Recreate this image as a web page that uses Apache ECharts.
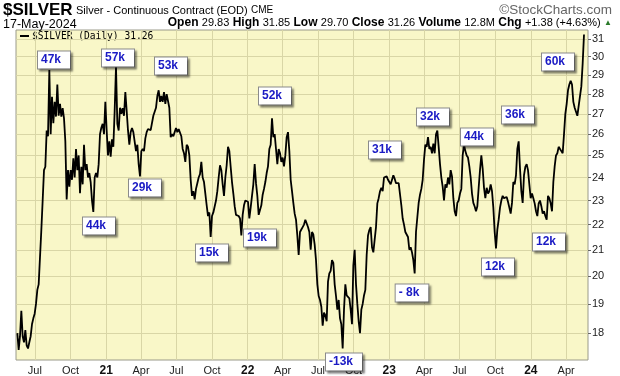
<!DOCTYPE html>
<html>
<head>
<meta charset="utf-8">
<script src="https://cdn.jsdelivr.net/npm/echarts@6/dist/echarts.min.js"></script>
<style>
  html, body { margin: 0; padding: 0; background: #fff; }
  #main { width: 620px; height: 376px; }
</style>
</head>
<body>
<div id="main"></div>
<script>
const startDate = '2020-05-17';
const endDate = '2024-05-17';
const closes = [
  18.0, 17.45, 17.9, 18.76, 17.9, 17.7, 18.1, 17.6, 17.5, 17.7,
  17.9, 18.3, 18.5, 18.66, 19.0, 19.5, 19.7, 19.74, 21.78, 23.0,
  24.33, 24.48, 26.18, 25.9, 29.27, 26.0, 27.86, 26.53, 27.6, 26.86,
  28.5, 26.9, 27.5, 26.86, 27.28, 26.77, 25.66, 23.05, 24.33, 23.6,
  24.33, 23.9, 24.87, 24.0, 25.3, 24.33, 25.0, 23.31, 24.48, 23.7,
  25.5, 24.33, 24.6, 24.0, 24.2, 23.8, 23.0, 22.52, 24.0, 24.2,
  24.0, 24.6, 26.0, 26.31, 26.5, 26.0, 27.6, 26.18, 25.0, 25.66,
  24.94, 25.76, 25.4, 27.15, 29.45, 26.5, 26.18, 27.3, 27.0, 27.28,
  26.9, 28.1, 27.15, 26.18, 25.5,
  26.1, 26.3, 26.1, 26.18, 25.2, 25.5, 24.6, 24.05, 25.2, 25.3,
  25.2, 25.8, 26.1, 26.25, 26.3, 26.2, 26.2, 26.9, 27.1, 27.3,
  27.9, 28.2, 27.6, 27.9, 27.6, 28.1, 27.5, 28.0, 28.1, 27.3,
  25.86, 26.0, 25.9, 26.1, 26.3, 26.1, 26.25, 26.18, 25.9, 25.3,
  25.1, 24.7, 25.5, 25.4, 25.0, 23.9, 23.2, 23.4, 23.05, 23.5,
  23.75, 24.0, 24.15, 24.7, 24.0, 23.8, 23.3, 22.8, 22.35, 22.5,
  21.5, 22.35, 22.5, 22.5, 23.0, 23.4, 24.0, 24.55, 24.33, 23.7,
  23.2, 24.0, 24.55, 25.4, 25.2, 24.48, 23.8, 23.3, 22.76, 22.4,
  22.35, 22.35, 22.25, 21.56, 22.4, 22.8, 23.0,
  23.0, 22.95, 22.25, 22.7, 23.2, 23.7, 24.6, 23.75, 23.2, 22.4,
  22.4, 22.8, 23.25, 23.5, 23.8, 24.2, 24.5, 25.3, 25.5, 26.77,
  25.86, 26.0, 25.3, 24.6, 25.3, 25.1, 24.7, 24.9, 24.5, 25.0,
  25.86, 26.1, 25.2, 23.9, 23.4, 22.9, 22.45, 22.2, 21.55, 20.8,
  21.7, 21.8, 21.9, 22.0, 22.2, 22.15, 21.9, 21.7, 21.0, 21.7,
  21.6, 21.2, 20.6, 19.7, 19.28, 19.14, 18.9, 18.25, 18.7, 18.6,
  18.4, 19.8, 20.1, 20.2, 20.6, 20.5, 19.7, 19.28, 18.8, 19.14,
  18.5, 18.3, 17.5, 18.8, 19.7, 19.3, 19.3, 19.2, 18.8, 18.3,
  20.4, 21.0, 19.7, 19.0, 18.4, 18.0, 18.8,
  19.0, 19.3, 19.5, 20.8, 21.56, 21.78, 21.9, 21.1, 20.9, 21.4,
  21.9, 22.88, 23.1, 23.4, 23.55, 23.4, 24.0, 24.05, 24.05, 23.9,
  23.85, 23.7, 23.7, 24.1, 23.95, 23.75, 23.75, 23.75, 23.7, 22.8,
  22.25, 22.0, 21.7, 21.75, 21.5, 21.0, 21.1, 20.9, 20.6, 20.1,
  21.7, 22.3, 22.9, 23.25, 23.5, 23.9, 24.8, 25.5, 25.4, 25.86,
  25.3, 25.4, 25.1, 25.55, 25.1, 26.0, 26.18, 25.4, 24.6, 24.0,
  23.6, 23.0, 23.7, 23.55, 24.0, 23.7, 24.33, 24.05, 23.1, 22.55,
  22.35, 22.9, 23.0, 23.3, 23.5, 25.0, 25.5, 25.2, 25.0, 24.9,
  24.5, 24.0, 23.3, 22.9, 22.75,
  22.55, 22.76, 23.55, 24.33, 25.0, 24.4, 23.55, 23.1, 23.55, 23.3,
  23.4, 23.7, 23.4, 22.7, 21.7, 21.05, 21.8, 22.2, 22.7, 23.0,
  23.2, 23.1, 23.1, 23.15, 22.95, 22.7, 22.45, 22.9, 23.8, 23.7,
  24.1, 25.3, 25.66, 24.4, 23.4, 22.9, 24.1, 24.48, 24.6, 24.33,
  23.7, 23.1, 23.3, 23.1, 22.88, 22.55, 22.35, 22.88, 23.0, 22.76,
  22.45, 22.55, 22.35, 22.2, 23.2, 23.1, 22.88, 22.55, 23.8, 24.5,
  25.0, 25.1, 25.4, 25.3, 25.2, 25.1, 26.0, 27.0, 27.5, 28.2,
  28.5, 28.7, 28.5, 27.6, 27.3, 27.1, 26.9, 26.86, 27.9, 28.4,
  29.63, 31.26
];
const quarterTicks = [
  '2020-07-01', '2020-10-01', '2021-01-01', '2021-04-01', '2021-07-01', '2021-10-01',
  '2022-01-01', '2022-04-01', '2022-07-01', '2022-10-01', '2023-01-01', '2023-04-01',
  '2023-07-01', '2023-10-01', '2024-01-01', '2024-04-01'
];
const priceTicks = [18, 19, 20, 21, 22, 23, 24, 25, 26, 27, 28, 29, 30, 31];
const volumeNotes = ['47k', '57k', '53k', '52k', '31k', '32k', '44k', '36k', '60k',
  '29k', '44k', '15k', '19k', '-13k', '- 8k', '12k', '12k'];

const months = ['Jan', 'Feb', 'Mar', 'Apr', 'May', 'Jun', 'Jul', 'Aug', 'Sep', 'Oct', 'Nov', 'Dec'];
const DAY = 86400000;
const t0 = Date.parse(startDate);
const t1 = Date.parse(endDate);
const step = (t1 - t0) / (closes.length - 1);
const seriesData = closes.map((c, i) => [t0 + i * step, c]);
const qTicks = quarterTicks.map(d => Date.parse(d));

// label box centres, in pixels
const notePlaces = [[54, 60], [118, 58], [171, 66], [275, 96], [385, 150], [433, 117],
  [477, 137], [518, 115], [558, 62], [145, 188], [99, 226], [212, 253], [260, 238],
  [344, 362], [412, 293], [498, 267], [549, 242]];

const sans = '"Liberation Sans", Arial, sans-serif';
const gridColor = '#d9d6a6';

const chart = echarts.init(document.getElementById('main'), null, { renderer: 'canvas' });

const option = {
  animation: false,
  backgroundColor: '#fff',
  grid: {
    left: 16, right: 32, top: 30, bottom: 16,
    containLabel: false,
    outerBoundsMode: 'none',
    show: true,
    backgroundColor: '#f9f7c8',
    borderColor: '#9a9a8a',
    borderWidth: 1
  },
  xAxis: {
    type: 'value',
    min: t0 - 3.44 * DAY,
    max: t1 + 10.3 * DAY,
    axisLine: { show: false },
    axisTick: { show: false, customValues: qTicks },
    splitLine: { show: true, lineStyle: { color: gridColor, width: 1 } },
    axisLabel: {
      customValues: qTicks,
      margin: 5,
      color: '#222',
      fontSize: 11,
      fontFamily: sans,
      hideOverlap: false,
      formatter: v => {
        const d = new Date(v);
        const m = d.getUTCMonth();
        return m === 0 ? '{yr|' + String(d.getUTCFullYear()).slice(2) + '}' : months[m];
      },
      rich: { yr: { fontWeight: 'bold', fontSize: 12, fontFamily: sans, color: '#111' } }
    }
  },
  yAxis: {
    type: 'log',
    logBase: 10,
    position: 'right',
    min: 17.13,
    max: 31.52,
    axisLine: { show: false },
    axisTick: { show: true, customValues: priceTicks, length: 3, inside: false, lineStyle: { color: '#666' } },
    splitLine: { show: true, lineStyle: { color: gridColor, width: 1 } },
    axisLabel: {
      customValues: priceTicks,
      margin: 4,
      color: '#222',
      fontSize: 11,
      fontFamily: sans,
      formatter: v => String(Math.round(v))
    }
  },
  series: [{
    type: 'line',
    data: seriesData,
    showSymbol: false,
    symbol: 'none',
    sampling: 'none',
    lineStyle: { color: '#000', width: 1.8 },
    markPoint: {
      symbol: 'rect',
      symbolSize: 1,
      silent: true,
      itemStyle: { color: 'rgba(0,0,0,0)' },
      label: {
        show: true,
        position: 'inside',
        formatter: p => p.name,
        color: '#1a1ac4',
        fontWeight: 'bold',
        fontSize: 12,
        fontFamily: sans,
        backgroundColor: '#fff',
        borderColor: '#8a8a8a',
        borderWidth: 1,
        padding: [3, 9, 2, 3],
        shadowColor: 'rgba(0,0,0,0.35)',
        shadowBlur: 2,
        shadowOffsetX: 2,
        shadowOffsetY: 2
      },
      data: volumeNotes.map((t, i) => ({ name: t, x: notePlaces[i][0], y: notePlaces[i][1] }))
    }
  }],
  graphic: [
    {
      type: 'text', left: 3, top: 2,
      style: {
        text: '{a|$SILVER} {b|Silver - Continuous Contract (EOD)} {c|CME}',
        rich: {
          a: { font: 'bold 17px ' + sans, fill: '#000' },
          b: { font: '11px ' + sans, fill: '#000' },
          c: { font: '10px ' + sans, fill: '#000' }
        }
      }
    },
    {
      type: 'text', right: 8, top: 3,
      style: { text: '©StockCharts.com', font: '13.5px ' + sans, fill: '#666' }
    },
    {
      type: 'text', left: 3, top: 18,
      style: { text: '17-May-2024', font: '12.5px ' + sans, fill: '#000' }
    },
    {
      type: 'text', right: 8, top: 17,
      style: {
        text: '{l|Open} {v|29.83} {l|High} {v|31.85} {l|Low} {v|29.70} {l|Close} {v|31.26} ' +
              '{l|Volume} {v|12.8M} {l|Chg} {v|+1.38 (+4.63%)} {g|▲}',
        rich: {
          l: { font: 'bold 12px ' + sans, fill: '#000' },
          v: { font: '11px ' + sans, fill: '#000' },
          g: { font: '8px ' + sans, fill: '#2a7a2a' }
        }
      }
    },
    {
      type: 'line',
      shape: { x1: 20, y1: 36, x2: 29, y2: 36 },
      style: { stroke: '#000', lineWidth: 2 }
    },
    {
      type: 'text', left: 32, top: 31,
      style: { text: '$SILVER (Daily) 31.26', font: '9.6px "DejaVu Sans Mono", monospace', fill: '#000' }
    }
  ]
};

chart.setOption(option);
</script>
</body>
</html>
